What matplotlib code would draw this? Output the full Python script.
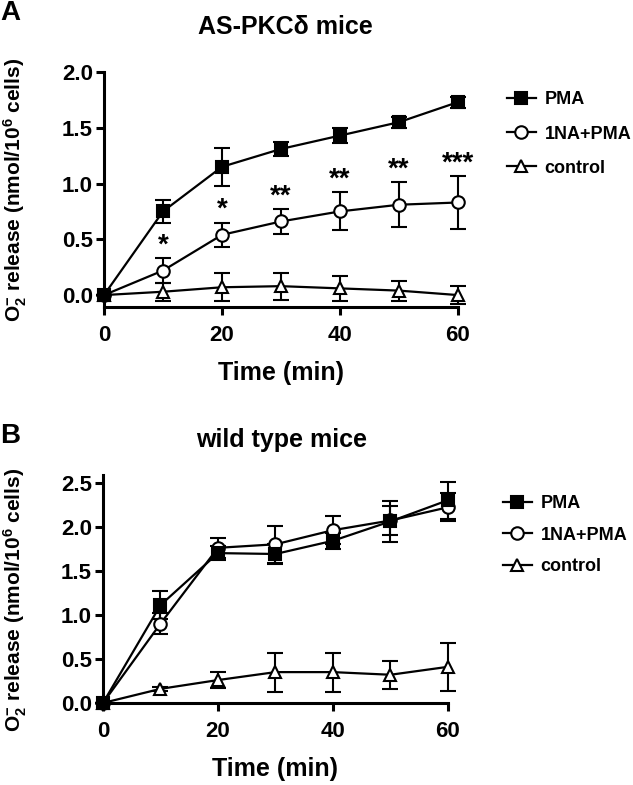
import numpy as np
import matplotlib.pyplot as plt

plt.rcParams['font.family'] = ['Liberation Sans', 'DejaVu Sans']
plt.rcParams['font.weight'] = 'bold'
plt.rcParams['axes.labelweight'] = 'bold'
plt.rcParams['mathtext.fontset'] = 'custom'
plt.rcParams['mathtext.rm'] = 'Liberation Sans:bold'
plt.rcParams['mathtext.it'] = 'Liberation Sans:bold'
plt.rcParams['mathtext.bf'] = 'Liberation Sans:bold'

# time points (min)
time = [0, 10, 20, 30, 40, 50, 60]

# panel A: AS-PKCdelta mice
a_pma = [0.0, 0.75, 1.15, 1.31, 1.43, 1.55, 1.73]
a_pma_err = [0.0, 0.10, 0.17, 0.06, 0.07, 0.05, 0.05]
a_na = [0.0, 0.22, 0.54, 0.66, 0.75, 0.81, 0.83]
a_na_err = [0.0, 0.11, 0.11, 0.11, 0.17, 0.20, 0.235]
a_ctl = [0.0, 0.03, 0.07, 0.08, 0.06, 0.04, 0.0]
a_ctl_err = [0.0, 0.08, 0.125, 0.12, 0.11, 0.09, 0.08]
sig_time = [10, 20, 30, 40, 50, 60]
sig_labels = ['*', '*', '**', '**', '**', '***']

# panel B: wild type mice
b_pma = [0.0, 1.11, 1.70, 1.69, 1.84, 2.06, 2.30]
b_pma_err = [0.0, 0.16, 0.08, 0.11, 0.09, 0.23, 0.21]
b_na = [0.0, 0.90, 1.76, 1.80, 1.96, 2.07, 2.22]
b_na_err = [0.0, 0.12, 0.11, 0.21, 0.16, 0.17, 0.16]
b_ctl = [0.0, 0.16, 0.26, 0.35, 0.35, 0.32, 0.41]
b_ctl_err = [0.0, 0.02, 0.09, 0.22, 0.22, 0.16, 0.27]

labels = ['PMA', '1NA+PMA', 'control']
ylab = r'O$_2^{-}$ release (nmol/10$^6$ cells)'


def panel(ax, series, errs):
    styles = [dict(marker='s', mfc='black', ms=8),
              dict(marker='o', mfc='white', ms=9),
              dict(marker='^', mfc='white', ms=9)]
    for k in [2, 1, 0]:
        ax.errorbar(time, series[k], yerr=errs[k], fmt='none', ecolor='black',
                    elinewidth=1.5, capsize=6, capthick=1.5, zorder=2, clip_on=False)
        ax.plot(time, series[k], color='black', lw=1.6, mec='black', mew=1.5,
                label=labels[k], zorder=3, clip_on=False, **styles[k])
    for s in ['top', 'right']:
        ax.spines[s].set_visible(False)
    for s in ['left', 'bottom']:
        ax.spines[s].set_linewidth(2.2)
    ax.set_xlim(0, 60)
    ax.set_xticks([0, 20, 40, 60])
    ax.tick_params(axis='both', width=2.2, length=6, labelsize=16)
    ax.tick_params(axis='x', pad=7)
    ax.tick_params(axis='y', pad=2)
    ax.set_xlabel('Time (min)', fontsize=18, labelpad=11)
    ax.set_ylabel(ylab, fontsize=15)
    h, l = ax.get_legend_handles_labels()
    order = [l.index(x) for x in labels]
    return [h[i] for i in order], [l[i] for i in order]


fig = plt.figure(figsize=(6.33, 7.85), dpi=100)

axA = fig.add_axes([0.1643, 0.6089, 0.5592, 0.2994])
h, l = panel(axA, [a_pma, a_na, a_ctl], [a_pma_err, a_na_err, a_ctl_err])
axA.set_ylim(-0.107, 2.0)
axA.set_yticks([0, 0.5, 1.0, 1.5, 2.0])
axA.set_yticklabels(['0.0', '0.5', '1.0', '1.5', '2.0'])
axA.yaxis.set_label_coords(-0.212, 0.5)
axA.legend(h, l, loc='upper left', bbox_to_anchor=(1.138, 0.917), frameon=False,
           fontsize=13, handlelength=1.6, handletextpad=0.5, labelspacing=0.95,
           borderpad=0, borderaxespad=0)
for t, s in zip(sig_time, sig_labels):
    i = time.index(t)
    axA.annotate(s, (t, a_na[i] + a_na_err[i]), xytext=(0, 0), textcoords='offset points',
                 ha='center', va='bottom', fontsize=20)

axB = fig.add_axes([0.1627, 0.1045, 0.5450, 0.2904])
h, l = panel(axB, [b_pma, b_na, b_ctl], [b_pma_err, b_na_err, b_ctl_err])
axB.set_ylim(0, 2.586)
axB.set_yticks([0, 0.5, 1.0, 1.5, 2.0, 2.5])
axB.set_yticklabels(['0.0', '0.5', '1.0', '1.5', '2.0', '2.5'])
axB.yaxis.set_label_coords(-0.215, 0.45)
axB.legend(h, l, loc='upper left', bbox_to_anchor=(1.159, 0.912), frameon=False,
           fontsize=13, handlelength=1.6, handletextpad=0.5, labelspacing=0.8,
           borderpad=0, borderaxespad=0)

fig.text(285 / 633, 1 - 27 / 785, 'AS-PKCδ mice', ha='center', va='center', fontsize=18)
fig.text(282 / 633, 1 - 440 / 785, 'wild type mice', ha='center', va='center', fontsize=18)
fig.text(0.0, 1.0, 'A', ha='left', va='top', fontsize=20)
fig.text(0.0, 1 - 423 / 785, 'B', ha='left', va='top', fontsize=20)

fig.savefig('out.png', dpi=100)
